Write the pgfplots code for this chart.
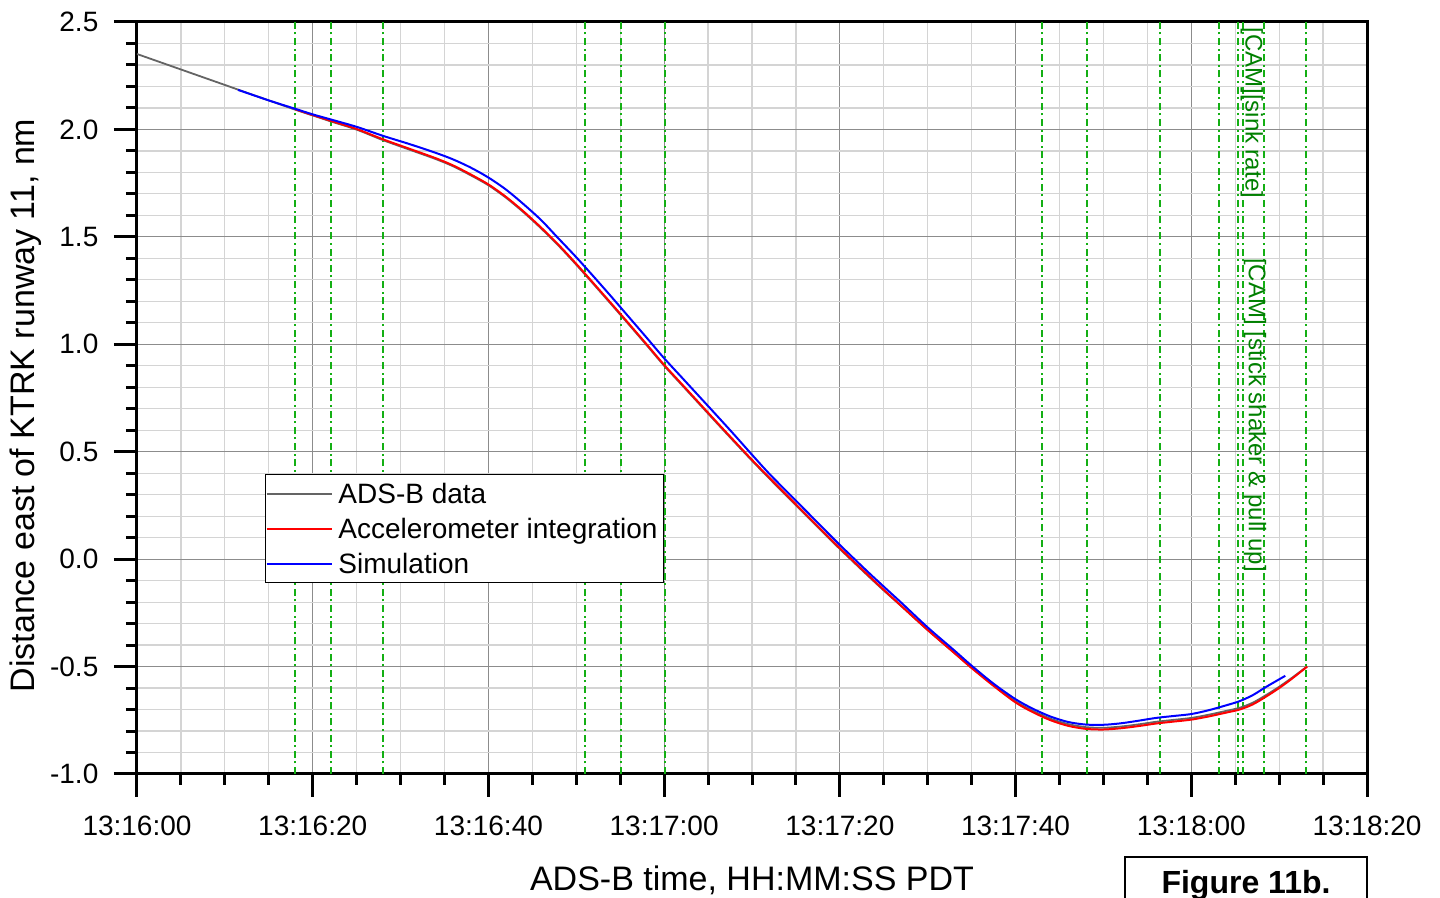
\documentclass[border=0pt]{standalone}
\usepackage{fontspec}
\setmainfont{Liberation Sans}
\usepackage{pgfplots}
\pgfplotsset{compat=1.18}

\definecolor{evtgreen}{RGB}{20,175,20}
\definecolor{camgreen}{RGB}{0,128,0}
\definecolor{adsgray}{RGB}{100,100,100}
\definecolor{majgrid}{RGB}{140,140,140}
\definecolor{mingrid}{RGB}{212,212,212}
\definecolor{simblue}{RGB}{0,0,255}

\begin{document}
\begin{tikzpicture}
\useasboundingbox (-68.5pt,-62pt) rectangle (651.5pt,387pt);
\begin{axis}[
  at={(0pt,0pt)}, anchor=south west,
  scale only axis, width=615pt, height=376pt,
  xmin=0, xmax=140, ymin=-1, ymax=2.5,
  xtick={0,20,40,60,80,100,120,140},
  xticklabels={13:16:00,13:16:20,13:16:40,13:17:00,13:17:20,13:17:40,13:18:00,13:18:20},
  minor x tick num=3,
  ytick={-1,-0.5,0,0.5,1,1.5,2,2.5},
  yticklabels={-1.0,-0.5,0.0,0.5,1.0,1.5,2.0,2.5},
  minor y tick num=4,
  grid=both,
  major grid style={line width=0.6pt, majgrid},
  minor grid style={line width=0.6pt, mingrid},
  tick pos=left, tick align=outside,
  major tick length=11.5pt, minor tick length=5.5pt,
  tick style={black, line width=1.5pt},
  axis line style={line width=1.5pt, black},
  xticklabel style={font=\fontsize{14}{16}\selectfont, yshift=-5.8pt},
  yticklabel style={font=\fontsize{14}{16}\selectfont, xshift=-4.3pt},
  xlabel={ADS-B time, HH:MM:SS PDT},
  xlabel style={at={(axis description cs:0.5,0)}, anchor=base, yshift=-58.5pt, font=\fontsize{17}{20}\selectfont},
  ylabel={Distance east of KTRK runway 11, nm},
  % the label is rotated, so its local y direction points left
  ylabel style={at={(axis description cs:0,0.49)}, anchor=base, yshift=51pt, font=\fontsize{17}{20}\selectfont},
  legend cell align=left,
  legend image code/.code={\draw[#1, line width=1pt] (0pt,0pt) -- (32.5pt,0pt);},
  legend style={at={(0.1041,0.399)}, anchor=north west, draw=black, line width=0.6pt, fill=white,
    font=\fontsize{14}{16}\selectfont, inner xsep=0pt, inner ysep=0.75pt, row sep=0pt,
    nodes={inner xsep=2.9pt, inner ysep=1.75pt, text height=12pt, text depth=2pt}},
]

% event markers (cockpit audio callouts)
\pgfplotsinvokeforeach{18.03,22.05,27.97,50.99,55.12,60.06,103.04,108.13,116.44,123.16,125.28,125.92,128.31,133.02}{
  \addplot[evtgreen, line width=1pt, dash pattern=on 3.5pt off 1.8pt on 1pt off 1.8pt, forget plot]
    coordinates {(#1,-1) (#1,2.5)};
}

\addplot[adsgray, line width=0.9pt, smooth] coordinates {
(0,2.351)(5,2.279)(10,2.207)(12,2.178)(15,2.135)(18,2.092)(20,2.065)(22,2.038)(25,1.999)
(28,1.950)(31,1.906)(34,1.862)(36,1.828)(38,1.786)(40,1.740)(42,1.682)(44,1.614)(46,1.539)
(48,1.458)(50,1.370)(52,1.278)(54,1.185)(56,1.091)(58,0.996)(60,0.900)(62,0.811)(64,0.722)
(66,0.633)(68,0.545)(70,0.458)(72,0.374)(75,0.251)(78,0.128)(80,0.047)(83,-0.070)(85,-0.146)
(87,-0.219)(90,-0.330)(93,-0.435)(95,-0.505)(97.5,-0.587)(100,-0.662)(102,-0.707)(104,-0.743)
(106,-0.768)(108,-0.782)(110,-0.785)(112,-0.779)(114,-0.769)(116,-0.757)(118,-0.748)(120,-0.739)
(122,-0.724)(124,-0.706)(125.5,-0.692)(127,-0.668)(128.5,-0.633)(130,-0.594)(131.5,-0.551)(133,-0.505)
};
\addlegendentry{ADS-B data}

\addplot[red, line width=1pt, smooth] coordinates {
(18,2.094)(20,2.067)(22,2.041)(25,2.002)(28,1.954)(31,1.910)(34,1.866)(36,1.832)(38,1.790)
(40,1.744)(42,1.686)(44,1.618)(46,1.543)(48,1.462)(50,1.374)(52,1.282)(54,1.189)(56,1.095)
(58,1.000)(60,0.904)(62,0.815)(64,0.726)(66,0.637)(68,0.549)(70,0.462)(72,0.378)(75,0.255)
(78,0.132)(80,0.051)(83,-0.066)(85,-0.143)(87,-0.218)(90,-0.330)(93,-0.436)(95,-0.507)
(97.5,-0.590)(100,-0.667)(102,-0.713)(104,-0.750)(106,-0.776)(108,-0.790)(110,-0.793)(112,-0.787)
(114,-0.777)(116,-0.765)(118,-0.756)(120,-0.747)(122,-0.732)(124,-0.714)(125.5,-0.700)(127,-0.676)
(128.5,-0.640)(130,-0.600)(131.5,-0.555)(133.2,-0.500)
};
\addlegendentry{Accelerometer integration}

\addplot[simblue, line width=1pt, smooth] coordinates {
(11.5,2.184)(15,2.135)(18,2.096)(20,2.070)(22,2.047)(25,2.012)(28,1.970)(31,1.932)(34,1.891)
(36,1.860)(38,1.822)(40,1.776)(42,1.720)(44,1.652)(46,1.578)(47.8,1.500)(50,1.405)(52,1.314)
(54,1.221)(56,1.126)(58,1.031)(60,0.935)(62,0.846)(64,0.757)(66,0.668)(68,0.578)(70,0.486)
(72,0.396)(75,0.272)(78,0.148)(80,0.066)(83,-0.052)(85,-0.128)(87,-0.203)(90,-0.318)(93,-0.424)
(95,-0.496)(97.5,-0.580)(100,-0.652)(102,-0.697)(104,-0.733)(106,-0.758)(108,-0.770)(110,-0.771)
(112,-0.764)(114,-0.752)(116,-0.739)(118,-0.730)(120,-0.721)(122,-0.703)(124,-0.680)(125.5,-0.661)
(127,-0.633)(128.5,-0.595)(130.7,-0.543)
};
\addlegendentry{Simulation}

\node[rotate=-90, anchor=west, inner sep=0pt, text=camgreen, font=\fontsize{12}{14}\selectfont]
  at (axis cs:126.9,2.477) {[CAM][sink rate]};
\node[rotate=-90, anchor=west, inner sep=0pt, text=camgreen, font=\fontsize{12}{14}\selectfont]
  at (axis cs:127.25,1.402) {[CAM] [stick shaker \& pull up]};
\end{axis}

% caption box
\draw[line width=1pt] (494pt,-70pt) rectangle (615pt,-41.3pt);
\node[anchor=base, inner sep=0pt, font=\bfseries\fontsize{16}{18}\selectfont] at (554.5pt,-60pt) {Figure 11b.};
\end{tikzpicture}
\end{document}
